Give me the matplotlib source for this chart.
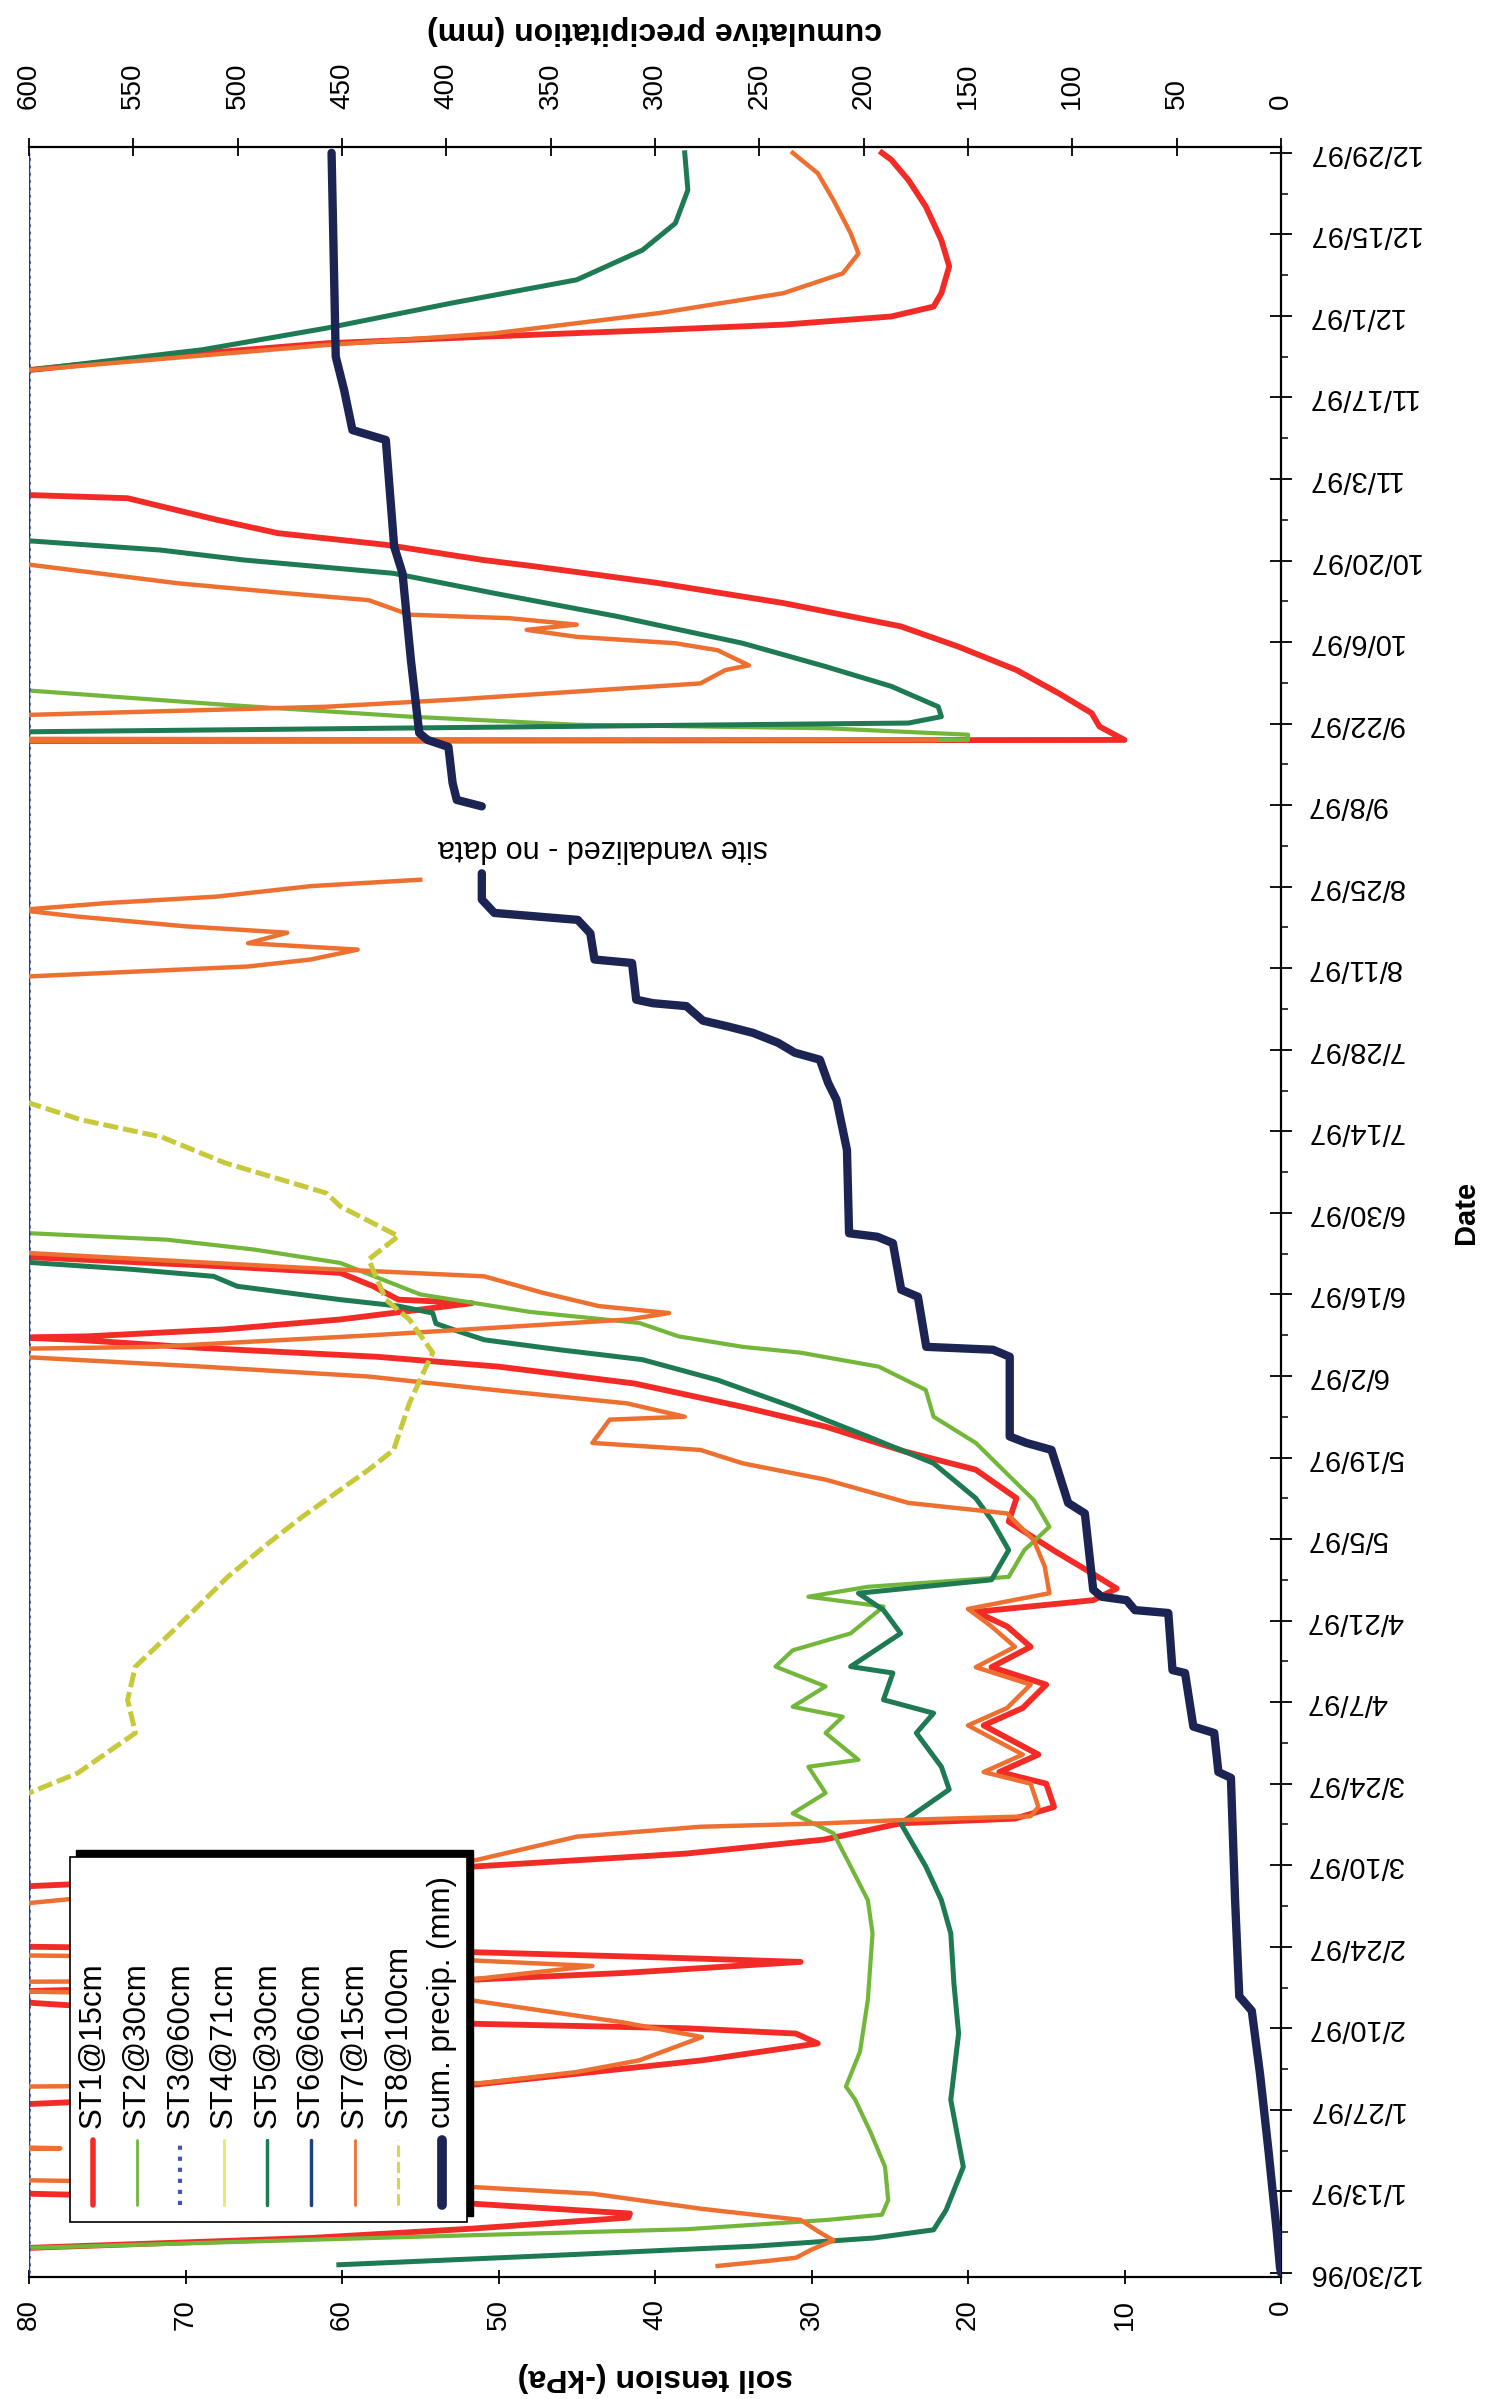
import numpy as np
import pandas as pd
import matplotlib
matplotlib.use("Agg")
import matplotlib.pyplot as plt
from matplotlib.patches import Rectangle
from matplotlib.lines import Line2D

plt.rcParams['font.family'] = ['Liberation Sans', 'DejaVu Sans']

W, H = 1486, 2399
OFF = 85  # sensor beyond the 80 kPa limit of the plot (clipped)
nan = np.nan

# date axis: days since 12/30/96, labelled every 14 days
start = pd.Timestamp("1996-12-30")
tick_dates = pd.date_range(start, periods=27, freq="14D")
date_labels = [f"{d.month}/{d.day}/{d:%y}" for d in tick_dates]

# soil tension series: (day, -kPa)
st1 = [(0, OFF), (3.9, OFF), (4.3, 80), (6, 62), (7.6, 51.7), (9.5, 41.7), (10.2, 41.6), (11.9, 51.7),
       (13.6, 80), (14, OFF), (28.5, OFF), (29, 80), (32.2, 52), (34.2, 45), (36.5, 37), (39.4, 29.6),
       (41.1, 31), (42, 38), (42.8, 52), (45, 72), (46.4, 80), (47, OFF), (48, OFF), (48.4, 80),
       (50.3, 52), (51.5, 42), (53.4, 30.7), (54.2, 40), (55.1, 52), (56, 80), (56.5, OFF), (66, OFF),
       (66.4, 80), (69.7, 52), (72, 38), (74.4, 29.2), (77.2, 24.3), (78, 17), (80, 14.5), (84, 15),
       (86, 18), (89, 15.5), (94, 19), (97, 16.5), (101, 15), (104, 18.5), (107.5, 16), (111, 17.5),
       (113.5, 19.5), (115.5, 12), (117.5, 10.5), (120, 12), (124, 14.5), (129, 17.4), (133, 16.9),
       (137.9, 19.5), (141, 24), (145.3, 29.1), (148.7, 34.4), (152.7, 41.3), (155.6, 50), (157.3, 57.8),
       (158.8, 68.9), (160.2, 76.9), (160.6, 80.7), (160.8, 76.3), (162, 67.5), (163.7, 60.1),
       (166.5, 51.7), (167.1, 56.4), (169.4, 58), (171.7, 60.1), (172.8, 67.5), (174.5, 80.7),
       (175, OFF), (263.0, OFF), (263.2, 10), (265.5, 11.6), (267.8, 12.1), (271.2, 14.2), (275.2, 16.9),
       (279.2, 20.6), (282.7, 24.3), (286.7, 31.8), (290.1, 39.7), (293, 47.7), (294.1, 51),
       (296.7, 57.2), (298.7, 64.1), (301, 68), (304.7, 73.7), (305.3, 80.6), (306, OFF), (326.3, OFF),
       (326.7, 80), (329, 71.6), (331.3, 61), (332.5, 50.3), (333.6, 39.7), (334.5, 31.8), (335.9, 24.9),
       (337.6, 22.2), (339.9, 21.7), (344.5, 21.2), (349, 21.7), (354.8, 22.7), (359.3, 23.8),
       (362.8, 24.9), (364, 25.5)]

st2 = [(0, OFF), (3.9, OFF), (4.3, 80), (6, 58), (7.5, 38), (9.1, 29), (10, 25.5), (12.5, 25.1),
       (18.2, 25.3), (24, 26.2), (29.7, 27.2), (32, 27.8), (38, 26.9), (46.9, 26.4), (58.3, 26.1),
       (64, 26.4), (69.8, 27.5), (75.5, 28.6), (78.9, 31.2), (82.4, 29.1), (86.9, 30.2), (88.1, 27),
       (92.7, 29.1), (95.5, 28), (97.2, 31.2), (100.7, 29.1), (104.1, 32.3), (106.9, 31.2),
       (109.8, 27.5), (114.4, 25.4), (116.1, 30.2), (117.8, 26.4), (119.5, 17.4), (124.1, 16.4),
       (128.1, 14.8), (132.7, 15.8), (135.6, 16.9), (142.5, 19.5), (147, 22.2), (151.6, 22.7),
       (155.6, 25.7), (158, 30.7), (159, 34.4), (160.8, 38.5), (163.1, 41), (165, 48), (168, 55),
       (173.4, 60.1), (175.7, 65.6), (177.4, 71.2), (178.6, 80.7), (179, OFF), (263.0, OFF),
       (263.2, 20), (264.1, 20), (265.2, 29), (265.8, 45), (267.2, 55.7), (269.2, 67.3), (271.8, 80.6),
       (272.2, OFF), (364, OFF)]

st5 = [(1.4, 60.2), (3.1, 45.7), (4.6, 33.6), (6, 26), (7.4, 22.2), (10.8, 21.4), (18.2, 20.3),
       (29.7, 21.1), (41.1, 20.6), (49.7, 20.9), (58.3, 21.1), (64, 21.7), (69.8, 22.7), (77.2, 24.3),
       (83, 21.2), (86.9, 21.7), (92.7, 23.3), (96.1, 22.2), (98.4, 25.4), (103, 24.8), (104.1, 27.5),
       (109.8, 24.3), (113.8, 25.4), (116.7, 27), (119, 18.5), (124.1, 17.4), (129.3, 18.5),
       (133, 19.5), (139, 22.2), (143.6, 26.4), (148.7, 31.2), (153.3, 36), (156.8, 40.8),
       (158.5, 46.1), (160.2, 50.9), (161.6, 52.5), (163, 54), (164.8, 54.2), (166, 56.4),
       (167.1, 60.1), (169.4, 66.7), (171.1, 68.2), (172.3, 73.4), (173.5, 80), (174, OFF),
       (264.4, OFF), (264.6, 80), (266.1, 23.8), (267.2, 21.7), (268.9, 21.9), (272.4, 24.9),
       (275.8, 29.1), (279.8, 34.4), (284.4, 42.4), (288.4, 50.3), (291.8, 56.7), (294.1, 66.3),
       (295.8, 71.6), (297.5, 80.6), (298, OFF), (326.3, OFF), (326.7, 80), (330.2, 68.9),
       (333.9, 61), (338.2, 53), (342.2, 45), (347.3, 40.8), (351.9, 38.7), (357.6, 37.9), (364, 38.1)]

st7 = [(1.2, 36), (2.0, 33), (2.6, 31), (4, 30), (5.6, 28.6), (7, 29.5), (9.1, 30.7), (11, 37),
       (13.6, 44), (14.8, 52), (15.9, 80), (16.2, OFF), (21, OFF), (21.4, 78), (21.8, OFF),
       (31.5, OFF), (32, 80), (32.6, 51), (34.5, 45), (36.5, 41), (40.5, 37), (43, 42), (46.9, 52),
       (48.3, 80), (48.6, OFF), (49.5, OFF), (50, 80), (50.3, 52), (52.7, 44), (53.7, 52), (54.5, 80),
       (55, OFF), (63, OFF), (63.5, 80), (70.9, 51.4), (74.9, 45), (76.6, 37.1), (77.2, 29.1),
       (77.8, 23.8), (78.4, 16), (80, 15.5), (84, 16), (86, 19), (89, 16.5), (94, 20), (97, 17.5),
       (101, 16), (104, 19.5), (107.5, 17), (111, 18.5), (114, 20), (116.7, 14.8), (121.3, 15.1),
       (125.8, 15.8), (130.4, 17.5), (132.2, 23.8), (136.2, 29.1), (139, 34.4), (141.3, 37.1),
       (142.5, 44), (146.5, 42.9), (147, 38.1), (149.3, 41.8), (151.6, 50.3), (153.9, 58.3),
       (155.6, 68.9), (157.2, 80), (157.5, OFF), (158.5, OFF), (159, 72), (161, 58), (162.5, 49),
       (163.7, 41.7), (164.8, 39.1), (166, 43.6), (168.3, 47.2), (171.1, 50.9), (172.5, 62),
       (175.1, 80), (175.5, OFF), (222.3, OFF), (222.6, 80), (224.3, 66), (225.5, 62), (227.2, 59),
       (228.3, 66), (230.1, 63.5), (231.2, 70), (232.9, 77), (234, 80.6), (235.2, 75), (236.3, 68),
       (238.1, 62), (239.2, 55), (239.3, nan), (252, OFF), (263.0, OFF), (263.2, 22), (263.4, OFF),
       (267.2, OFF), (267.5, 80), (268.9, 61), (270.1, 53), (271.5, 45), (272.9, 37.1), (275.2, 35.5),
       (276, 34), (278.6, 36), (279.8, 38.7), (280.9, 45), (282.1, 48.2), (283, 45), (284.1, 49.3),
       (284.7, 55.7), (287.2, 58.3), (288.4, 63.6), (290.1, 70.5), (293.5, 80.6), (294, OFF),
       (326.3, OFF), (326.7, 80), (331, 61), (333, 50.3), (336.5, 39.7), (339.9, 31.8), (343.3, 28),
       (346.7, 27), (350.2, 27.5), (355.9, 28.6), (360.5, 29.6), (364, 31.2)]

st8 = [(0, OFF), (82, OFF), (82.4, 80), (85.8, 76.9), (92.7, 73.2), (98.4, 73.7), (104.1, 73.2),
       (111, 70.5), (119.5, 67.3), (125.3, 64.7), (129.9, 62.5), (137.9, 58.3), (141.3, 56.7),
       (149.3, 55.7), (153.4, 55), (158, 54.2), (163.7, 55.7), (167.1, 57.2), (174, 58.3),
       (178, 56.4), (183.1, 60.1), (185.4, 61), (190.6, 67.5), (195, 71.5), (198, 76.7),
       (201.4, 80.6), (202, OFF), (364, OFF)]

# sensors pegged at the top of the range all year
st_pegged = [(0, 80), (364, 80)]

# cumulative precipitation: (day, mm)
precip = [(0, 0), (1, 0.5), (7, 2), (21, 6), (34, 10), (45, 14), (47.5, 20), (64, 22), (85, 24),
          (86, 30), (92.7, 32), (93.8, 42), (103, 46), (103.5, 52), (113.3, 54), (113.8, 70),
          (115.5, 74), (116.1, 86), (117.3, 90), (130.4, 94), (132.2, 102), (141.3, 110),
          (142.5, 122), (143.6, 130), (157.3, 130), (158.5, 138), (159, 170), (167.6, 174),
          (168.8, 182), (176.8, 186), (177.9, 193.5), (178.5, 207), (192.8, 208), (201.4, 213),
          (204.3, 217), (208.3, 221), (209.5, 233), (211.2, 241), (212.9, 253), (214, 265),
          (215, 277), (217.5, 285), (218, 301), (218.6, 309), (224.9, 311), (225.5, 329), (230, 331),
          (232.3, 337), (232.9, 357), (233.5, 377), (235.8, 383), (240.3, 383), (240.4, nan),
          (251.8, 383), (252.9, 395), (255.8, 397), (262, 399), (263.2, 409), (264.4, 413),
          (277, 417), (291.8, 421), (296.4, 425), (314.7, 429), (316.4, 445), (323.3, 449),
          (329, 453), (364, 455)]

labels = ["ST1@15cm", "ST2@30cm", "ST3@60cm", "ST4@71cm", "ST5@30cm",
          "ST6@60cm", "ST7@15cm", "ST8@100cm", "cum. precip. (mm)"]
colors = ["#f22b26", "#72b63a", "#3f55b2", "#e4ec74", "#1d7a52",
          "#1f3f7a", "#ee7030", "#d6d84a", "#1b2452"]


def px(x, y):
    # pixel position in the output image -> figure fraction
    return x / W, 1 - y / H


fig = plt.figure(figsize=(W / 100, H / 100), dpi=100)
fig.patch.set_facecolor("white")
ax = fig.add_axes([29 / W, 1 - 2277 / H, (1281 - 29) / W, (2277 - 147) / H])

# soil tension lines, tension on the horizontal (0 at right), date running upward
d, v = np.array(st1).T
ax.plot(v, d, color=colors[0], lw=4.2, solid_joinstyle="round")
d, v = np.array(st2).T
ax.plot(v, d, color=colors[1], lw=3.0)
d, v = np.array(st_pegged).T
ax.plot(v, d, color=colors[2], lw=2.0, ls=":")
ax.plot(v, d, color=colors[5], lw=1.0)
d, v = np.array(st5).T
ax.plot(v, d, color=colors[4], lw=3.6)
d, v = np.array(st7).T
ax.plot(v, d, color=colors[6], lw=3.2)
d, v = np.array(st8).T
ax.plot(v, d, color="#c8c93a", lw=3.6, ls=(0, (3, 1)))

ax.set_xlim(80, 0)
ax.set_ylim(-0.7, 365)

ax.set_xticks(range(0, 81, 10))
ax.tick_params(axis="x", direction="inout", length=10, width=1.3, labelsize=20,
               labelrotation=90, pad=11)

ax.yaxis.tick_right()
ax.set_yticks(range(0, 365, 14))
ax.set_yticklabels(date_labels)
ax.set_yticks(range(7, 365, 14), minor=True)
ax.tick_params(axis="y", which="major", direction="inout", length=16, width=1.3,
               labelsize=21, labelrotation=180, pad=10)
ax.tick_params(axis="y", which="minor", direction="out", length=5, width=1.1)
for lbl in ax.get_yticklabels():
    lbl.set_va("center")

for s in ["left", "top"]:
    ax.spines[s].set_visible(False)
for s in ["bottom", "right"]:
    ax.spines[s].set_linewidth(1.6)

# secondary axis: cumulative precipitation along the top
ax2 = ax.twiny()
d, v = np.array(precip).T
ax2.plot(v, d, color=colors[8], lw=6, solid_capstyle="round", solid_joinstyle="round")
ax2.set_xlim(600, 0)
ax2.set_xticks(range(0, 601, 50))
ax2.tick_params(axis="x", direction="inout", length=13, width=1.3, labelsize=20,
                labelrotation=90, pad=21)
for s in ["left", "right", "bottom"]:
    ax2.spines[s].set_visible(False)
ax2.spines["top"].set_linewidth(1.6)

ax.text(43.3, 244.7, "site vandalized - no data", rotation=180, ha="center", va="center",
        fontsize=22)

# axis titles
fig.text(*px(655, 2377), "soil tension (-kPa)", rotation=180, ha="center", va="center",
         fontsize=23, fontweight="bold")
fig.text(*px(654, 30), "cumulative precipitation (mm)", rotation=180, ha="center",
         va="center", fontsize=23, fontweight="bold")
fig.text(*px(1466, 1212), "Date", rotation=90, ha="center", va="center",
         fontsize=21, fontweight="bold")

# legend box with a shadow on the top and right
x0, y0 = px(76, 2216)
x1, y1 = px(473, 1850)
fig.add_artist(Rectangle((x0, y0), x1 - x0, y1 - y0, transform=fig.transFigure,
                         facecolor="black", edgecolor="black", zorder=10))
x0, y0 = px(70, 2222)
x1, y1 = px(467, 1857)
fig.add_artist(Rectangle((x0, y0), x1 - x0, y1 - y0, transform=fig.transFigure,
                         facecolor="white", edgecolor="black", lw=1.2, zorder=11))

styles = [("-", 4), ("-", 2), (":", 3), ("-", 2.2), ("-", 2.5),
          ("-", 2.5), ("-", 2), ("--", 2.2), ("-", 7)]
for i, (lab, col) in enumerate(zip(labels, colors)):
    xp = 93 + 43.6 * i
    ls, lw = styles[i]
    hx, hy0 = px(xp, 2205)
    _, hy1 = px(xp, 2140)
    fig.add_artist(Line2D([hx, hx], [hy0, hy1], transform=fig.transFigure, color=col,
                          lw=lw, ls=ls, solid_capstyle="round", zorder=12))
    tx, ty = px(xp, 2128)
    fig.text(tx, ty, lab, rotation=90, ha="center", va="bottom", fontsize=22.5, zorder=12)

plt.savefig("out.png", dpi=100)
